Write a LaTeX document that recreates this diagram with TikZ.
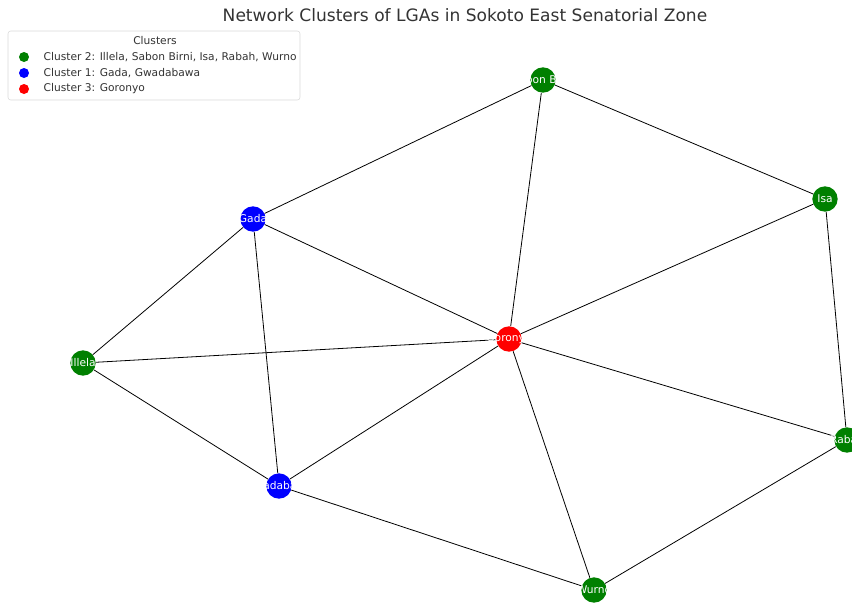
\documentclass[tikz,border=0pt]{standalone}
\usepackage{fontspec}
\setmainfont{DejaVu Sans}
\usepackage{tikz}
\usepackage{xcolor}
\definecolor{clgreen}{RGB}{0,128,0}
\definecolor{clblue}{RGB}{0,0,255}
\definecolor{clred}{RGB}{255,0,0}
\definecolor{txtgray}{RGB}{51,51,51}

\begin{document}
\begin{tikzpicture}[x=0.75pt, y=-0.75pt, font=\fontsize{8}{9}\selectfont,
    lga/.style={circle, minimum size=19pt, inner sep=0pt, text=white},
    link/.style={black, line width=0.6pt},
    dot/.style={circle, minimum size=7.5pt, inner sep=0pt}]
  \useasboundingbox (0,0) rectangle (852,604);
  % === Uzly ===
  \node[lga, fill=clgreen] (sabon) at (543,80) {};
  \node[lga, fill=clgreen] (isa) at (825,199) {};
  \node[lga, fill=clblue] (gada) at (253,219) {};
  \node[lga, fill=clred] (goronyo) at (509,339) {};
  \node[lga, fill=clgreen] (illela) at (83,363) {};
  \node[lga, fill=clgreen] (rabah) at (847,440) {};
  \node[lga, fill=clblue] (gwada) at (279,486) {};
  \node[lga, fill=clgreen] (wurno) at (594,590) {};
  % === Hrany ===
  \foreach \a/\b in {sabon/gada, sabon/isa, sabon/goronyo, gada/goronyo,
      gada/illela, gada/gwada, isa/goronyo, isa/rabah, illela/goronyo,
      illela/gwada, gwada/goronyo, gwada/wurno, goronyo/rabah,
      goronyo/wurno, rabah/wurno}
    \draw[link] (\a) -- (\b);
  % === Popisky ===
  \foreach \n/\t in {sabon/Sabon Birni, isa/Isa, gada/Gada, goronyo/Goronyo,
      illela/Illela, rabah/Rabah, gwada/Gwadabawa, wurno/Wurno}
    \node[white] at (\n) {\t};
  % === Titulek ===
  \node[txtgray, font=\fontsize{12.8}{14}\selectfont] (title) at (465,15) {Network Clusters of LGAs in Sokoto East Senatorial Zone};
  % === Legenda ===
  \draw[gray!30, rounded corners=2pt, fill=white] (8,31) rectangle (300,100);
  \node[txtgray] (legtitle) at (155,41) {Clusters};
  \node[dot, fill=clgreen] (d2) at (24,57) {};
  \node[dot, fill=clblue] (d1) at (24,73) {};
  \node[dot, fill=clred] (d3) at (24,89) {};
  \node[txtgray, anchor=west] (l2) at (39,57) {Cluster 2: Illela, Sabon Birni, Isa, Rabah, Wurno};
  \node[txtgray, anchor=west] (l1) at (39,73) {Cluster 1: Gada, Gwadabawa};
  \node[txtgray, anchor=west] (l3) at (39,89) {Cluster 3: Goronyo};
\end{tikzpicture}
\end{document}
